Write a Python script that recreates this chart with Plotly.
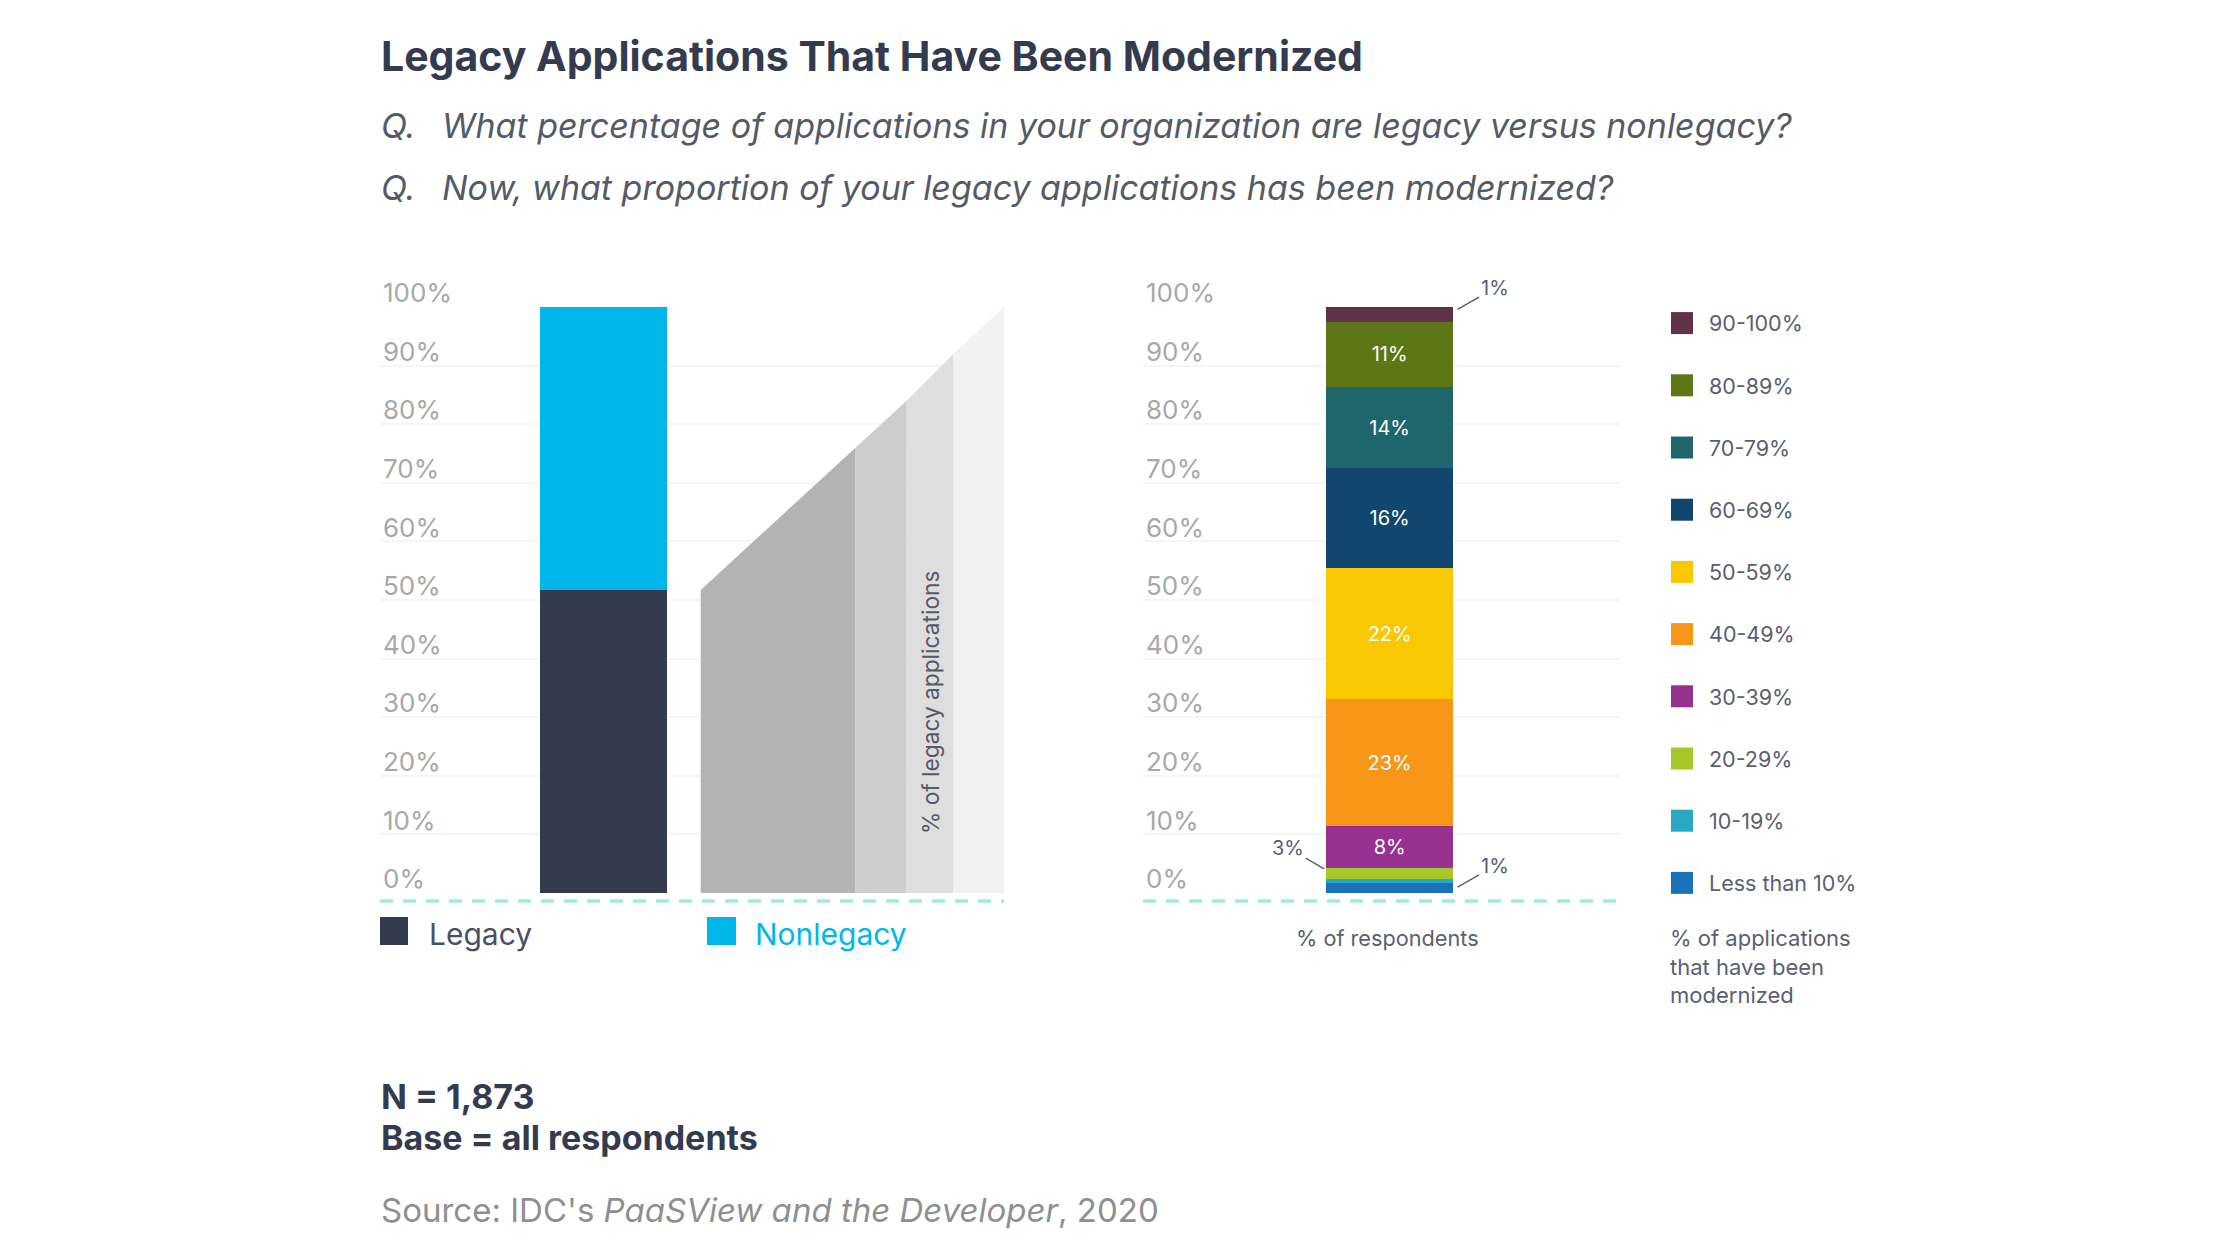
import plotly.graph_objects as go

# left panel values
legacy_share = [51.7]
nonlegacy_share = [48.3]
wedge_tops = [51.7, 76, 84, 92, 100]
wedge_breaks = [51.4, 76.2, 84.4, 91.9, 100]
wedge_colors = ["#b3b3b3", "#cdcdcd", "#dedede", "#f2f2f2"]

# right panel values, bottom to top, as drawn in the bar
band_names = ["Less than 10%", "10-19%", "20-29%", "30-39%", "40-49%",
              "50-59%", "60-69%", "70-79%", "80-89%", "90-100%"]
band_values = [1.65, 0.8, 1.9, 7, 21.7, 22.4, 17, 13.9, 11.1, 2.5]
band_labels = ["", "", "", "8%", "23%", "22%", "16%", "14%", "11%", ""]
band_colors = ["#1b72b8", "#28a8c4", "#a5c72a", "#96318f", "#f89619",
               "#fac800", "#11476f", "#1f666c", "#5d7716", "#5f3347"]

tick_vals = [0, 10, 20, 30, 40, 50, 60, 70, 80, 90, 100]
tick_text = ["0%", "10%", "20%", "30%", "40%", "50%", "60%", "70%", "80%", "90%", "100%"]

FONT = "Inter"
DARK = "#353b4e"
W, H = 2240, 1260


def px(x):
    return x / W


def py(y):
    return 1 - y / H


def note(x, y, text, size, color=DARK, anchor="left", **kw):
    return dict(xref="paper", yref="paper", x=px(x), y=py(y), text=text, showarrow=False,
                xanchor=anchor, yanchor="middle", align="left",
                font=dict(family=FONT, size=size, color=color), **kw)


fig = go.Figure()

for i, color in enumerate(wedge_colors):
    x0, x1 = wedge_breaks[i], wedge_breaks[i + 1]
    fig.add_trace(go.Scatter(x=[x0, x1, x1, x0], y=[wedge_tops[i], wedge_tops[i + 1], 0, 0],
                             mode="lines", fill="toself", fillcolor=color,
                             line=dict(width=0), showlegend=False))

fig.add_trace(go.Bar(x=[35.8], y=legacy_share, width=20.4, marker=dict(color="#353b4e", line_width=0),
                     showlegend=False))
fig.add_trace(go.Bar(x=[35.8], y=nonlegacy_share, width=20.4, marker=dict(color="#00b7ec", line_width=0),
                     showlegend=False))

for name, val, label, color in zip(band_names, band_values, band_labels, band_colors):
    fig.add_trace(go.Bar(x=[51.6], y=[val], width=26.6, name=name, xaxis="x2", yaxis="y2",
                         marker=dict(color=color, line_width=0), text=[label],
                         textposition="inside", textangle=0, insidetextanchor="middle",
                         insidetextfont=dict(family=FONT, size=20, color="white"),
                         showlegend=False))

# colour key on the right: swatches and text on separate axes, text a few pixels lower
fig.add_trace(go.Scatter(x=[0.5] * len(band_names), y=band_names, mode="markers", xaxis="x3", yaxis="y3",
                         marker=dict(symbol="square", size=22, color=band_colors, line_width=0),
                         cliponaxis=False, showlegend=False))
fig.add_trace(go.Scatter(x=[0.05] * len(band_names), y=band_names, mode="text", xaxis="x4", yaxis="y4",
                         text=band_names, textposition="middle right", cliponaxis=False,
                         textfont=dict(family=FONT, size=21.5, color="#5a6070"), showlegend=False))

value_axis = dict(range=[0, 100], tickvals=tick_vals, ticktext=tick_text, showgrid=True,
                  gridcolor="#f5f5f5", gridwidth=1.5, zeroline=False, showline=False, ticks="",
                  ticklabelposition="inside", ticklabelshift=-14, ticklabeloverflow="allow",
                  tickfont=dict(family=FONT, size=26, color="#a8a8a8"),
                  domain=[py(893), py(307)])
hidden_x = dict(range=[0, 100], visible=False, showgrid=False, zeroline=False)
key_x = dict(range=[0, 1], visible=False, showgrid=False, zeroline=False)
key_y = dict(type="category", categoryorder="array", categoryarray=band_names, range=[-0.5, 9.5],
             visible=False)

shapes = []
for x0, x1 in [(380, 1004), (1143, 1621)]:
    shapes.append(dict(type="line", xref="paper", yref="paper", x0=px(x0), x1=px(x1), y0=py(901), y1=py(901),
                       line=dict(color="#a2eadb", width=3.5, dash="13px,10px")))
shapes.append(dict(type="rect", xref="paper", yref="paper", x0=px(380), x1=px(408), y0=py(917), y1=py(945),
                   fillcolor="#353b4e", line_width=0))
shapes.append(dict(type="rect", xref="paper", yref="paper", x0=px(707), x1=px(736), y0=py(917), y1=py(945),
                   fillcolor="#00b7ec", line_width=0))

annotations = [
    note(378.5, 56, "<b>Legacy Applications That Have Been Modernized</b>", 41),
    note(378.5, 126, "<i>Q.</i>", 34, "#555a66"),
    note(440, 126, "<i>What percentage of applications in your organization are legacy versus nonlegacy?</i>", 34, "#555a66"),
    note(378.5, 187, "<i>Q.</i>", 34, "#555a66"),
    note(440, 187, "<i>Now, what proportion of your legacy applications has been modernized?</i>", 34, "#555a66"),
    note(426.5, 934, "Legacy", 30, "#4a5064"),
    note(752.5, 934, "Nonlegacy", 30, "#00b7ec"),
    note(930, 703, "% of legacy applications", 22.7, "#555a66", anchor="center", textangle=-90),
    note(1387, 938, "% of respondents", 21.7, "#5a6070", anchor="center"),
    note(1668, 966, "% of applications<br>that have been<br>modernized", 22, "#5a6070"),
    note(378.5, 1096, "<b>N = 1,873</b>", 34),
    note(378.5, 1137, "<b>Base = all respondents</b>", 34),
    note(378.5, 1210, "Source: IDC's <i>PaaSView and the Developer</i>, 2020", 33, "#8f8f8f"),
]

# leader lines for the bands too thin to carry a label
for x, y, ax, ay, text in [(65.8, 99.6, 37, -21, "1%"), (65.8, 1, 37, -21, "1%"), (37.9, 4.1, -36, -21, "3%")]:
    annotations.append(dict(xref="x2", yref="y2", x=x, y=y, ax=ax, ay=ay, text=text, showarrow=True,
                            arrowhead=0, arrowwidth=1.5, arrowcolor="#5a6070",
                            font=dict(family=FONT, size=20, color="#5a6070")))

fig.update_layout(
    width=W, height=H,
    margin=dict(l=0, r=0, t=0, b=0, autoexpand=False),
    paper_bgcolor="white", plot_bgcolor="white",
    barmode="stack",
    xaxis=dict(hidden_x, domain=[px(380), px(1004)]),
    yaxis=dict(value_axis, anchor="x"),
    xaxis2=dict(hidden_x, domain=[px(1143), px(1621)], anchor="y2"),
    yaxis2=dict(value_axis, anchor="x2"),
    xaxis3=dict(key_x, domain=[px(1671), px(1693)], anchor="y3"),
    yaxis3=dict(key_y, domain=[py(914), py(292)], anchor="x3"),
    xaxis4=dict(key_x, domain=[px(1700), px(1880)], anchor="y4"),
    yaxis4=dict(key_y, domain=[py(917), py(295)], anchor="x4"),
    shapes=shapes,
    annotations=annotations,
)

fig.write_html("out.html", config=dict(displayModeBar=False), post_script="document.body.style.margin='0';")
